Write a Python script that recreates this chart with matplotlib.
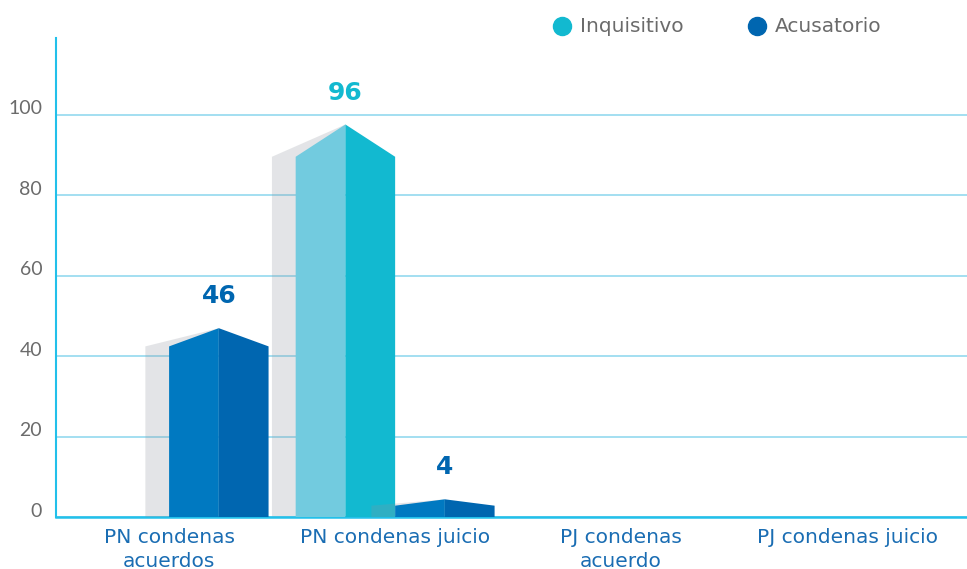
import matplotlib
matplotlib.use('Agg')
import matplotlib.pyplot as plt
from matplotlib.lines import Line2D
import matplotlib.transforms as mtransforms

plt.rcParams['font.family'] = ['DejaVu Sans']

# === Data ===
categories = ['PN condenas\nacuerdos', 'PN condenas juicio', 'PJ condenas\nacuerdo', 'PJ condenas juicio']
series_names = ['Inquisitivo', 'Acusatorio']
inquisitivo = [0, 96, 0, 0]
acusatorio = [46, 4, 0, 0]

# === Style ===
inq_left, inq_right = '#72cbdf', '#12b9d0'
acu_left, acu_right = '#0079c1', '#0066b0'
shadow_col = '#8c929c'
grid_col = '#93d9ef'
axis_col = '#22c0ea'
label_blue = '#1a6db3'
grey_txt = '#6b6b6b'

bar_w = 0.44
shadow_dx = 0.105


def prism(ax, xc, v, c_left, c_right, z):
    # house-shaped bar: two faces meeting at a ridge, grey shadow to the left
    peak = v + 0.4 + 0.012 * v
    shoulder = 0.942 * v - 0.9
    x0, x1 = xc - bar_w / 2, xc + bar_w / 2
    ax.fill([x0 - shadow_dx, x0 - shadow_dx, xc, xc], [0, shoulder, peak, 0],
            color=shadow_col, alpha=0.24, lw=0, zorder=z)
    ax.fill([x0, x0, xc, xc], [0, shoulder, peak, 0], color=c_left, lw=0, zorder=z + 1)
    ax.fill([xc, xc, x1, x1], [0, peak, shoulder, 0], color=c_right, lw=0, zorder=z + 1)
    return peak


fig = plt.figure(figsize=(9.67, 5.69), dpi=100)
ax = fig.add_axes([0.058, 0.091, 0.942, 0.842])

offsets = [-bar_w / 2, bar_w / 2]
for vals, off, cl, cr, z, tc in [(inquisitivo, offsets[0], inq_left, inq_right, 2, inq_right),
                                 (acusatorio, offsets[1], acu_left, acu_right, 4, acu_right)]:
    for i, v in enumerate(vals):
        if v <= 0:
            continue
        xc = i + off
        peak = prism(ax, xc, v, cl, cr, z)
        ax.annotate(str(v), (xc, peak), xytext=(0, 23), textcoords='offset points',
                    ha='center', va='center', fontsize=18, fontweight='bold', color=tc)

ax.set_xlim(-0.5, 3.53)
ax.set_ylim(0, 119)
ax.set_yticks([0, 20, 40, 60, 80, 100])
ax.yaxis.grid(True, color=grid_col, lw=1.2)
ax.set_axisbelow(True)

for s in ['top', 'right']:
    ax.spines[s].set_visible(False)
ax.spines['left'].set_color(axis_col)
ax.spines['left'].set_linewidth(1.5)
ax.spines['bottom'].set_color(axis_col)
ax.spines['bottom'].set_linewidth(1.8)

ax.set_xticks(range(len(categories)))
ax.set_xticklabels(categories, color=label_blue, fontsize=14.5, linespacing=1.3)
ax.tick_params(axis='x', length=0, pad=8)
ax.tick_params(axis='y', length=0, pad=10, labelsize=14, labelcolor=grey_txt)
shift_down = mtransforms.ScaledTranslation(0, -2 / 72, fig.dpi_scale_trans)
for lab in ax.get_yticklabels():
    lab.set_va('bottom')
    lab.set_family(['Lato', 'DejaVu Sans'])
    lab.set_transform(lab.get_transform() + shift_down)

# legend drawn by hand at the top right
leg_x = [562, 757]
leg_y = 26
for name, col, px in zip(series_names, [inq_right, acu_right], leg_x):
    fig.add_artist(Line2D([px / 967], [1 - leg_y / 569], marker='o', ls='', color=col,
                          markersize=13, transform=fig.transFigure))
    fig.text((px + 18) / 967, 1 - leg_y / 569, name, ha='left', va='center',
             fontsize=14.5, color=grey_txt)

fig.savefig('out.png', dpi=100)
